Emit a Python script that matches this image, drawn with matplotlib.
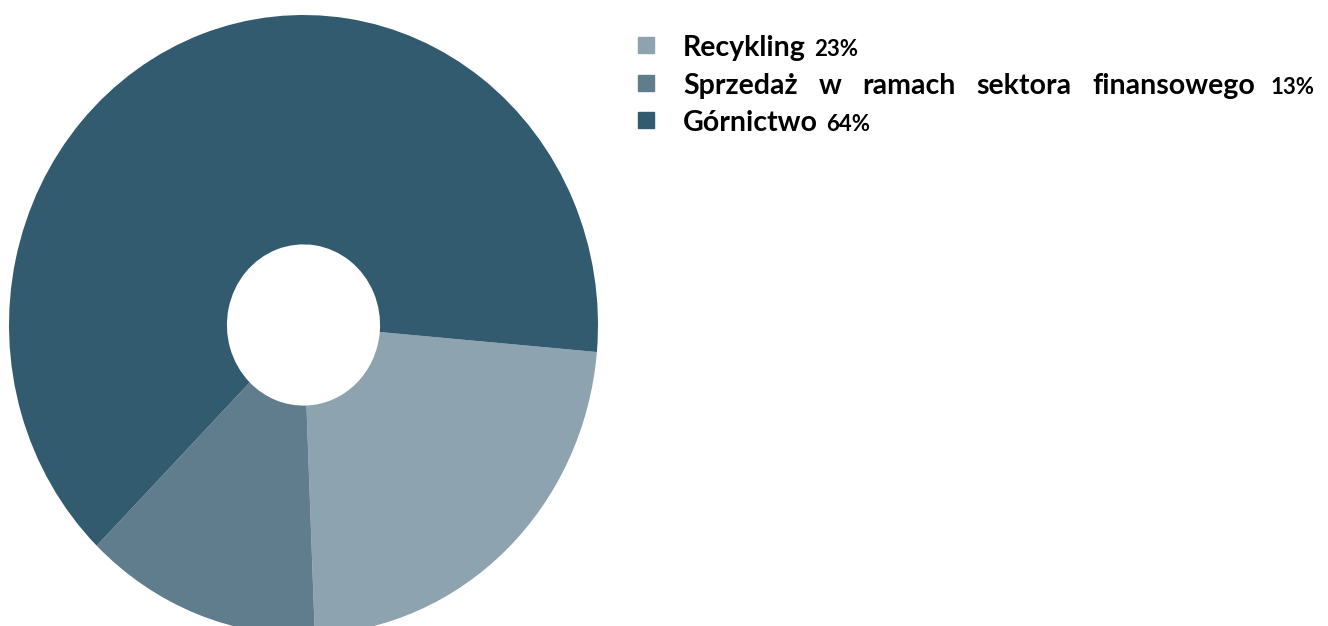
import matplotlib.pyplot as plt
from matplotlib.patches import Rectangle

labels = ['Recykling', 'Sprzedaż w ramach sektora finansowego', 'Górnictwo']
shares = [23, 13, 64]
colors = ['#8DA3AF', '#5F7D8D', '#335B70']

W, H = 1328, 626
fig = plt.figure(figsize=(W / 100, H / 100), dpi=100)

# pie axes, slightly taller than wide like the original (stretched image)
ax = fig.add_axes([9 / W, -9 / H, 589 / W, 620 / H])
ax.pie(shares, colors=colors, startangle=-5, counterclock=False,
       radius=1, wedgeprops=dict(width=0.74, linewidth=0))
ax.set_xlim(-1, 1)
ax.set_ylim(-1, 1)
ax.set_aspect('auto')
ax.axis('off')

font = 'Lato'
big = 20.5
small = 16

def px(x, y):
    return x / W, 1 - y / H

def add(x, y, s, size):
    return fig.text(*px(x, y), s, fontsize=size, fontweight='bold',
                    family=font, va='baseline', color='black')

baselines = [56, 94, 131]
fig.canvas.draw()
r = fig.canvas.get_renderer()
for i, (lab, pct, col) in enumerate(zip(labels, shares, colors)):
    yb = baselines[i]
    fig.patches.append(Rectangle(px(638, yb - 3), 16 / W, 16 / H, color=col,
                                 transform=fig.transFigure, figure=fig))
    if i == 1:
        # justified line: spread the words between left and right edges
        words = lab.split()
        widths = []
        for w in words:
            t = add(0, yb, w, big)
            widths.append(t.get_window_extent(renderer=r).width)
            t.remove()
        left, right = 683, 1255
        gap = (right - left - sum(widths)) / (len(words) - 1)
        x = left
        for w, wd in zip(words, widths):
            add(x, yb, w, big)
            x += wd + gap
        add(1271, yb, f'{pct}%', small)
    else:
        t = add(683, yb, lab, big)
        bb = t.get_window_extent(renderer=r)
        add(bb.x1 + 8, yb, f'{pct}%', small)

fig.savefig('out.png', dpi=100)
